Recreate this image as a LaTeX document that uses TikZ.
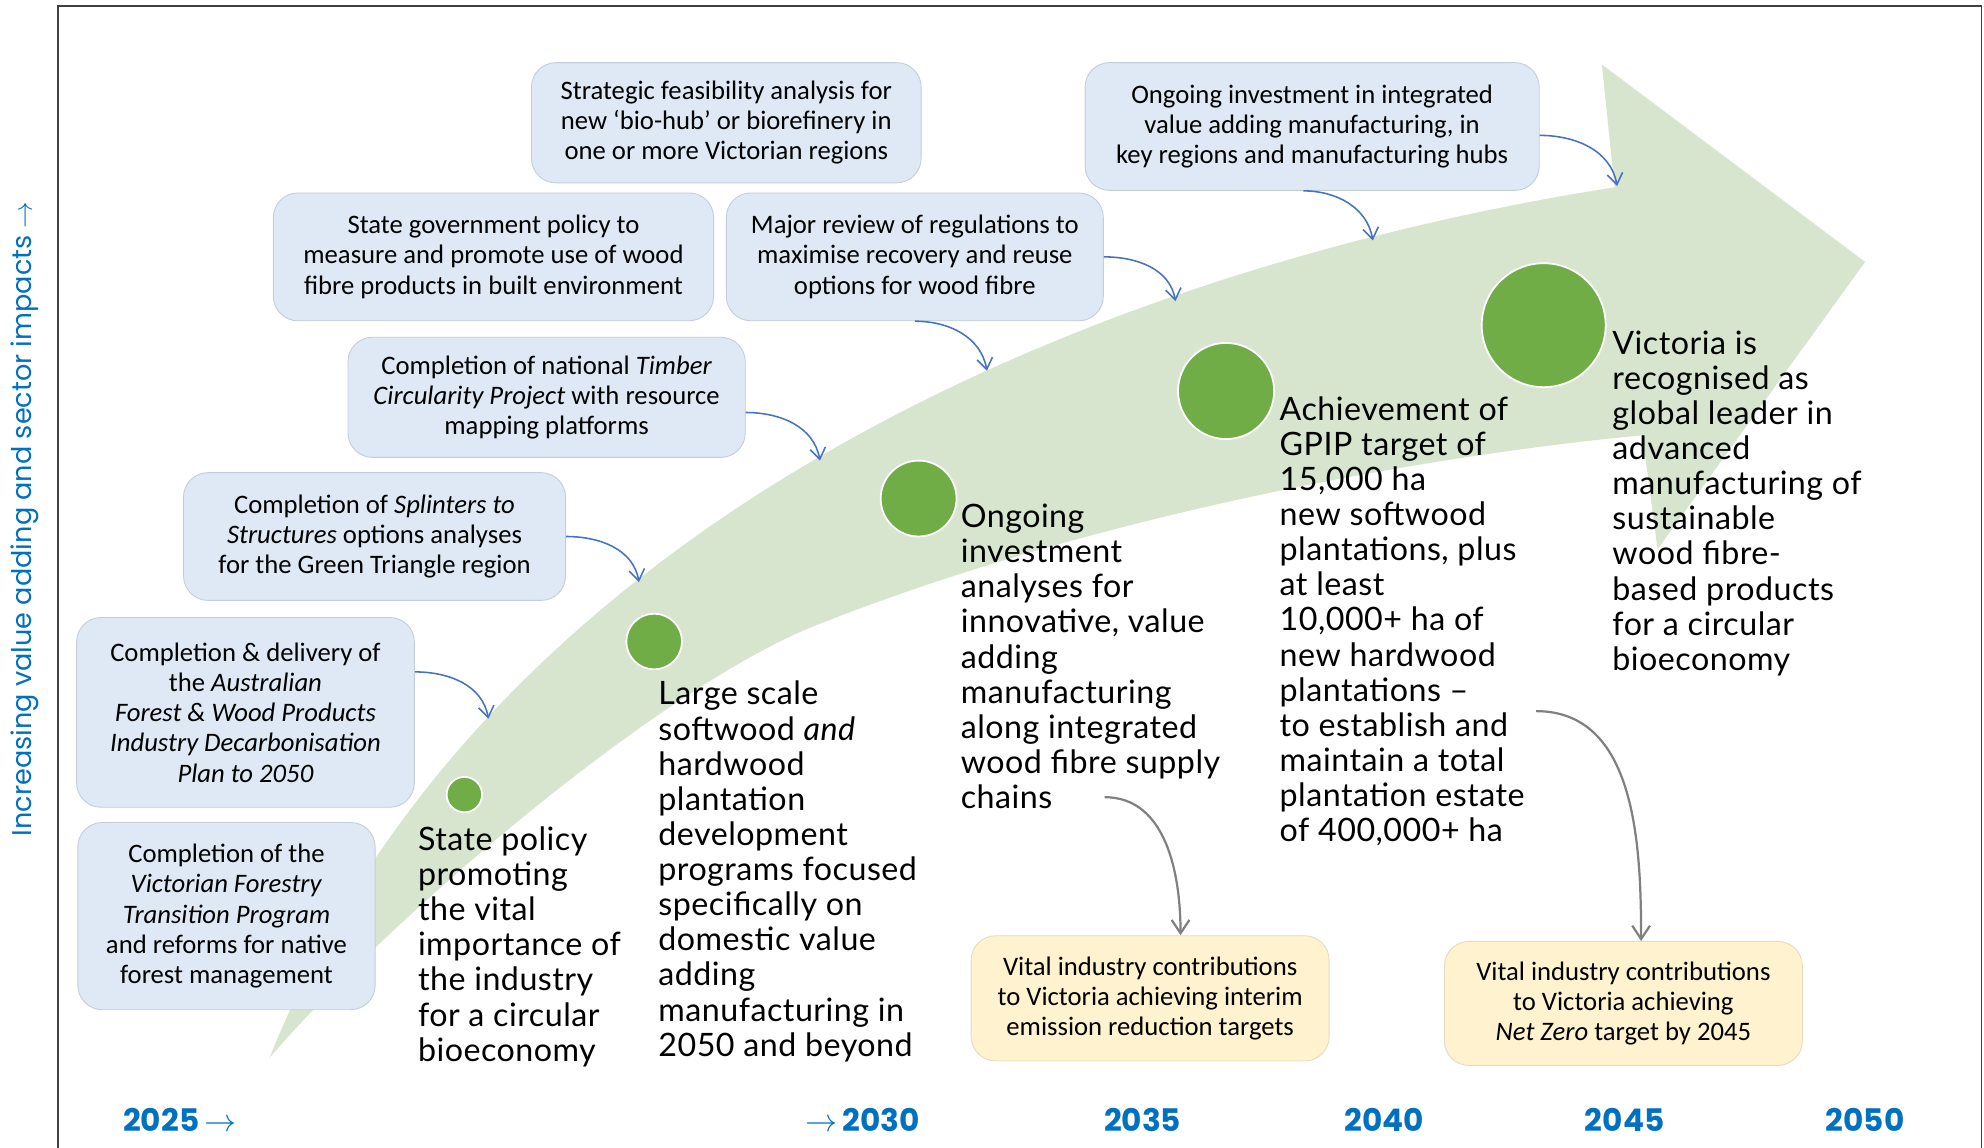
\documentclass[tikz,border=0pt]{standalone}
\usepackage{fontspec}
\setmainfont{Lato}[LetterSpace=1.5]
\newfontfamily\boxfont{Carlito}
\newfontfamily\yearfont{Poppins}
\usepackage{tikz}
\usetikzlibrary{arrows.meta, positioning}
\definecolor{boxblue}{RGB}{222,233,245}
\definecolor{boxedge}{RGB}{196,205,218}
\definecolor{noteyellow}{RGB}{255,242,206}
\definecolor{noteedge}{RGB}{226,220,196}
\definecolor{arrowgreen}{RGB}{215,228,206}
\definecolor{dotgreen}{RGB}{112,173,71}
\definecolor{linkblue}{RGB}{68,114,196}
\definecolor{yearblue}{RGB}{0,112,192}
\definecolor{linkgray}{RGB}{128,128,128}

\begin{document}
\begin{tikzpicture}[
    x = 0.02cm, y = -0.02cm,
    infobox/.style = {draw=boxedge, line width=0.4pt, fill=boxblue,
                      rounded corners=11pt, align=center, inner sep=2pt,
                      font=\boxfont\fontsize{12}{13.6}\selectfont},
    notebox/.style = {infobox, fill=noteyellow, draw=noteedge},
    dot/.style     = {circle, draw=white, line width=0.8pt,
                      fill=dotgreen, inner sep=0pt},
    stage/.style   = {anchor=north west, align=left, inner sep=0pt,
                      font=\fontsize{14.5}{15.8}\selectfont},
    year/.style    = {font=\yearfont\bfseries\fontsize{14}{16}\selectfont,
                      text=yearblue, inner sep=0pt},
    link/.style    = {-{Straight Barb[length=5pt, width=7pt]}, linkblue,
                      line width=0.7pt},
    feed/.style    = {-{Straight Barb[length=6pt, width=8pt]}, linkgray,
                      line width=1pt},
  ]
  \useasboundingbox (0,0) rectangle (1568,907);
  \draw[black!75, line width=0.8pt] (46,907) |- (1566,5) -- (1566,907);

  % the big curved arrow behind everything
  \fill[arrowgreen] (213,836) .. controls (380,420) and (850,215) .. (1276,148)
        -- (1266,51) -- (1474,207) -- (1310,434) -- (1298,344)
        .. controls (1098,363) and (843,415) .. (643,495)
        .. controls (523,543) and (313,720) .. (213,836) -- cycle;
  \coordinate (h1) at (386,568);
  \coordinate (h2) at (505,460);
  \coordinate (h3) at (648,364);
  \coordinate (h4) at (780,293);
  \coordinate (h5) at (929,238);
  \coordinate (h6) at (1085,190);
  \coordinate (h7) at (1278,147);

  \node[rotate=90, font=\yearfont\fontsize{12.2}{14}\selectfont, text=yearblue]
        (axislabel) at (20,410) {Increasing value adding and sector impacts $\rightarrow$};

  \node[infobox, minimum width=6.16cm, minimum height=1.90cm] (biohub) at (574,97)
        {Strategic feasibility analysis for\\ new ‘bio-hub’ or biorefinery in\\ one or more Victorian regions};
  \node[infobox, minimum width=7.18cm, minimum height=2.02cm] (hubs) at (1037,100)
        {Ongoing investment in integrated\\ value adding manufacturing, in\\ key regions and manufacturing hubs};
  \node[infobox, minimum width=6.96cm, minimum height=2.02cm] (builtenv) at (390,203)
        {State government policy to\\ measure and promote use of wood\\ fibre products in built environment};
  \node[infobox, minimum width=5.96cm, minimum height=2.02cm] (review) at (723,203)
        {Major review of regulations to\\ maximise recovery and reuse\\ options for wood fibre};
  \node[infobox, minimum width=6.28cm, minimum height=1.90cm] (timber) at (432,314)
        {Completion of national \textit{Timber}\\ \textit{Circularity Project} with resource\\ mapping platforms};
  \node[infobox, minimum width=6.04cm, minimum height=2.02cm] (splinters) at (296,424)
        {Completion of \textit{Splinters to}\\ \textit{Structures} options analyses\\ for the Green Triangle region};
  \node[infobox, minimum width=5.34cm, minimum height=3.00cm] (decarb) at (194,563)
        {Completion \& delivery of\\ the \textit{Australian}\\ \textit{Forest \& Wood Products}\\ \textit{Industry Decarbonisation}\\ \textit{Plan to 2050}};
  \node[infobox, minimum width=4.70cm, minimum height=2.96cm] (transition) at (179,724)
        {Completion of the\\ \textit{Victorian Forestry}\\ \textit{Transition Program}\\ and reforms for native\\ forest management};

  \node[notebox, minimum width=5.66cm, minimum height=1.98cm] (interim) at (909,789)
        {Vital industry contributions\\ to Victoria achieving interim\\ emission reduction targets};
  \node[notebox, minimum width=5.66cm, minimum height=1.96cm] (netzero) at (1283,793)
        {Vital industry contributions\\ to Victoria achieving\\ \textit{Net Zero} target by 2045};

  \node[dot, minimum size=0.56cm] (m1) at (367,628) {};
  \node[dot, minimum size=0.88cm] (m2) at (517,507) {};
  \node[dot, minimum size=1.20cm] (m3) at (726,394) {};
  \node[dot, minimum size=1.52cm] (m4) at (969,309) {};
  \node[dot, minimum size=1.96cm] (m5) at (1220,257) {};

  \node[stage] (policy) at (330,653)
        {State policy\\ promoting\\ the vital\\ importance of\\ the industry\\ for a circular\\ bioeconomy};
  \node[stage] (plantations) at (520,538)
        {Large scale\\ softwood \textit{and}\\ hardwood\\ plantation\\ development\\ programs focused\\ specifically on\\ domestic value\\ adding\\ manufacturing in\\ 2050 and beyond};
  \node[stage] (analyses) at (759,398)
        {Ongoing\\ investment\\ analyses for\\ innovative, value\\ adding\\ manufacturing\\ along integrated\\ wood fibre supply\\ chains};
  \node[stage] (gpip) at (1011,313)
        {Achievement of\\ GPIP target of\\ 15,000 ha\\ new softwood\\ plantations, plus\\ at least\\ 10,000+ ha of\\ new hardwood\\ plantations –\\ to establish and\\ maintain a total\\ plantation estate\\ of 400,000+ ha};
  \node[stage] (leader) at (1274,261)
        {Victoria is\\ recognised as\\ global leader in\\ advanced\\ manufacturing of\\ sustainable\\ wood fibre-\\ based products\\ for a circular\\ bioeconomy};

  \draw[link] ([yshift=0.64cm]decarb.east) to[out=0, in=100] (h1);
  \draw[link] (splinters.east) to[out=0, in=100] (h2);
  \draw[link] ([yshift=-0.24cm]timber.east) to[out=0, in=100] (h3);
  \draw[link] (review.south) to[out=0, in=100] (h4);
  \draw[link] (review.east) to[out=0, in=100] (h5);
  \draw[link] ([xshift=-0.14cm]hubs.south) to[out=0, in=100] (h6);
  \draw[link] ([yshift=-0.14cm]hubs.east) to[out=0, in=100] (h7);

  \coordinate (chainsend) at (873,630);
  \coordinate (estateend) at (1214,562);
  \draw[feed] (chainsend) to[out=0, in=90] ([xshift=0.48cm]interim.north);
  \draw[feed] (estateend) to[out=0, in=90] ([xshift=0.28cm]netzero.north);

  \node[year, anchor=west] (y2025) at (97,885) {2025\,$\rightarrow$};
  \node[year, anchor=east] (y2030) at (727,885) {$\rightarrow$\,2030};
  \node[year] (y2035) at (903,885) {2035};
  \node[year] (y2040) at (1094,885) {2040};
  \node[year] (y2045) at (1284,885) {2045};
  \node[year] (y2050) at (1474,885) {2050};
\end{tikzpicture}
\end{document}
